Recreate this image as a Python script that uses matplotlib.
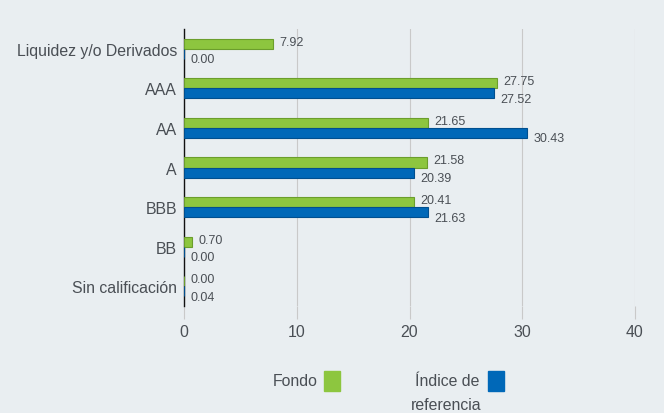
import matplotlib.pyplot as plt
from matplotlib.patches import Rectangle

# Datos
categorias = ["Liquidez y/o Derivados", "AAA", "AA", "A", "BBB", "BB", "Sin calificación"]
fondo = [7.92, 27.75, 21.65, 21.58, 20.41, 0.70, 0.00]
indice = [0.00, 27.52, 30.43, 20.39, 21.63, 0.00, 0.04]
ticks_x = [0, 10, 20, 30, 40]

fondo_color = "#8dc63f"
indice_color = "#0068b8"
bg = "#e9eef1"
texto = "#4a4f55"

plt.rcParams['font.family'] = ['Liberation Sans', 'DejaVu Sans']

fig = plt.figure(figsize=(6.64, 4.14), dpi=100, facecolor=bg)
ax = fig.add_axes([184/664, 107/414, 451/664, 277/414], facecolor=bg)

y = list(range(len(categorias)))
h = 0.253
ax.barh([i - h/2 for i in y], fondo, height=h, color=fondo_color,
        edgecolor="#6b9e2c", linewidth=0.8, zorder=3)
ax.barh([i + h/2 for i in y], indice, height=h, color=indice_color,
        edgecolor="#004f8f", linewidth=0.8, zorder=3)

# Etiquetas de valores
for i in y:
    ax.annotate(f"{fondo[i]:.2f}", (fondo[i], i - h/2), xytext=(4.5, 1.5),
                textcoords="offset points", va="center", ha="left",
                fontsize=9, color=texto)
    ax.annotate(f"{indice[i]:.2f}", (indice[i], i + h/2), xytext=(4.5, -4),
                textcoords="offset points", va="center", ha="left",
                fontsize=9, color=texto)

ax.set_xlim(0, 40)
ax.set_ylim(len(categorias) - 0.5, -0.5)
ax.set_yticks(y)
ax.set_yticklabels(categorias, fontsize=11.4, color=texto)
ax.set_xticks(ticks_x)
ax.set_xticklabels([str(t) for t in ticks_x], fontsize=11.4, color=texto)
ax.tick_params(axis="y", length=0, pad=5)
ax.tick_params(axis="x", length=9, color="#c9c9c9", width=0.8, pad=4)
ax.grid(axis="x", color="#c9c9c9", linewidth=0.8, zorder=0)

for s in ["top", "right", "bottom"]:
    ax.spines[s].set_visible(False)
ax.spines["left"].set_color("#111111")
ax.spines["left"].set_linewidth(1)

# Leyenda manual
fig.text(318/664, 1 - 382/414, "Fondo", ha="right", va="center", fontsize=11.4, color=texto)
fig.add_artist(Rectangle((324/664, 1 - 392/414), 16/664, 20/414,
                         transform=fig.transFigure, color=fondo_color))
fig.text(447/664, 1 - 382/414, "Índice de", ha="center", va="center", fontsize=11.4, color=texto)
fig.text(446/664, 1 - 406/414, "referencia", ha="center", va="center", fontsize=11.4, color=texto)
fig.add_artist(Rectangle((488/664, 1 - 392/414), 16/664, 20/414,
                         transform=fig.transFigure, color=indice_color))

fig.savefig("out.png", dpi=100, facecolor=bg)
